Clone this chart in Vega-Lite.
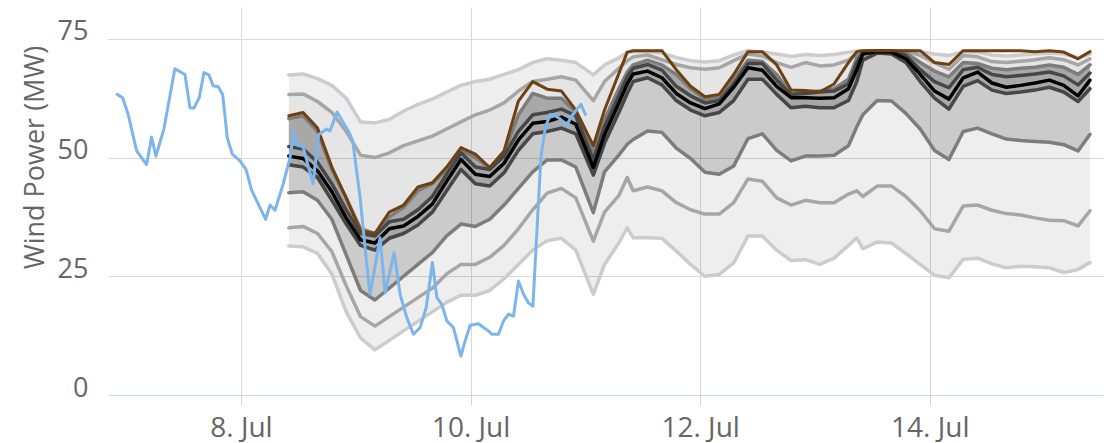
{
  "$schema": "https://vega.github.io/schema/vega-lite/v6.json",
  "width": 995,
  "height": 388,
  "autosize": "none",
  "padding": {"left": 108, "top": 7, "right": 6, "bottom": 48},
  "background": "white",
  "config": {
    "view": {"stroke": null},
    "font": "Open Sans",
    "axisX": {
      "domainColor": "#ccd6eb", "tickColor": "#ccd6eb", "tickSize": 10, "gridColor": "#d8d8d8",
      "labelFontSize": 28, "labelColor": "#666666", "labelPadding": 9, "labelFont": "Open Sans"
    },
    "axisY": {
      "domain": false, "ticks": false, "tickSize": 0, "gridColor": "#d8d8d8",
      "labelFontSize": 27, "labelColor": "#666666", "labelPadding": 20, "labelFont": "Open Sans", "labelOffset": -7,
      "titleFontSize": 27, "titleFontWeight": "normal", "titleColor": "#666666", "titleFont": "Open Sans",
      "titleX": -73, "titleY": 150, "titleAngle": -90, "titleAlign": "center", "titleBaseline": "middle"
    }
  },
  "datasets": {
    "fc": [
      {"t": "2024-07-08T10:00:00Z", "q05": 31.4, "q10": 35.2, "q25": 42.6, "q40": 48.5, "q50": 50.3, "q60": 52.3, "q75": 58.2, "q90": 63.3, "q95": 67.4, "det": 58.8},
      {"t": "2024-07-08T13:00:00Z", "q05": 31.2, "q10": 35.5, "q25": 42.8, "q40": 48.0, "q50": 49.8, "q60": 51.8, "q75": 58.8, "q90": 63.4, "q95": 67.6, "det": 59.5},
      {"t": "2024-07-08T16:00:00Z", "q05": 29.8, "q10": 34.0, "q25": 41.0, "q40": 45.8, "q50": 47.2, "q60": 49.0, "q75": 55.5, "q90": 61.8, "q95": 66.6, "det": 56.2},
      {"t": "2024-07-08T19:00:00Z", "q05": 25.5, "q10": 30.2, "q25": 37.0, "q40": 41.0, "q50": 42.8, "q60": 44.5, "q75": 47.5, "q90": 59.5, "q95": 65.2, "det": 48.0},
      {"t": "2024-07-08T22:00:00Z", "q05": 17.5, "q10": 23.0, "q25": 29.5, "q40": 36.0, "q50": 37.3, "q60": 39.0, "q75": 41.5, "q90": 55.5, "q95": 62.5, "det": 41.5},
      {"t": "2024-07-09T01:00:00Z", "q05": 12.0, "q10": 16.5, "q25": 22.0, "q40": 31.5, "q50": 32.7, "q60": 34.0, "q75": 35.0, "q90": 50.5, "q95": 57.5, "det": 34.5},
      {"t": "2024-07-09T04:00:00Z", "q05": 9.5, "q10": 14.5, "q25": 20.0, "q40": 30.5, "q50": 32.0, "q60": 33.5, "q75": 34.0, "q90": 50.0, "q95": 57.3, "det": 34.0},
      {"t": "2024-07-09T07:00:00Z", "q05": 11.5, "q10": 16.5, "q25": 22.5, "q40": 33.0, "q50": 35.0, "q60": 36.5, "q75": 37.5, "q90": 51.0, "q95": 58.0, "det": 38.5},
      {"t": "2024-07-09T10:00:00Z", "q05": 13.5, "q10": 18.5, "q25": 25.0, "q40": 34.0, "q50": 35.6, "q60": 37.0, "q75": 39.5, "q90": 52.5, "q95": 59.8, "det": 40.0},
      {"t": "2024-07-09T13:00:00Z", "q05": 15.5, "q10": 20.5, "q25": 27.5, "q40": 35.8, "q50": 37.6, "q60": 39.0, "q75": 43.0, "q90": 53.5, "q95": 61.2, "det": 43.8},
      {"t": "2024-07-09T16:00:00Z", "q05": 17.5, "q10": 22.5, "q25": 30.0, "q40": 38.5, "q50": 40.2, "q60": 41.8, "q75": 44.5, "q90": 54.5, "q95": 62.3, "det": 44.7},
      {"t": "2024-07-09T19:00:00Z", "q05": 19.5, "q10": 25.5, "q25": 33.5, "q40": 43.0, "q50": 45.0, "q60": 46.5, "q75": 47.5, "q90": 56.0, "q95": 63.8, "det": 48.0},
      {"t": "2024-07-09T22:00:00Z", "q05": 21.0, "q10": 27.5, "q25": 36.0, "q40": 47.5, "q50": 49.6, "q60": 51.0, "q75": 51.5, "q90": 57.5, "q95": 65.2, "det": 52.1},
      {"t": "2024-07-10T01:00:00Z", "q05": 21.0, "q10": 27.5, "q25": 35.5, "q40": 44.5, "q50": 46.5, "q60": 48.0, "q75": 50.0, "q90": 59.0, "q95": 66.0, "det": 50.7},
      {"t": "2024-07-10T04:00:00Z", "q05": 22.0, "q10": 29.0, "q25": 37.0, "q40": 44.0, "q50": 46.0, "q60": 47.5, "q75": 47.8, "q90": 60.0, "q95": 66.5, "det": 47.9},
      {"t": "2024-07-10T07:00:00Z", "q05": 24.5, "q10": 31.5, "q25": 40.0, "q40": 46.8, "q50": 48.8, "q60": 50.3, "q75": 51.0, "q90": 61.5, "q95": 67.5, "det": 51.4},
      {"t": "2024-07-10T10:00:00Z", "q05": 27.5, "q10": 35.0, "q25": 43.5, "q40": 51.5, "q50": 53.7, "q60": 55.5, "q75": 59.0, "q90": 64.0, "q95": 68.5, "det": 61.9},
      {"t": "2024-07-10T13:00:00Z", "q05": 30.5, "q10": 39.0, "q25": 47.0, "q40": 55.0, "q50": 57.2, "q60": 59.0, "q75": 63.5, "q90": 66.0, "q95": 70.0, "det": 66.0},
      {"t": "2024-07-10T16:00:00Z", "q05": 32.5, "q10": 42.5, "q25": 49.5, "q40": 55.5, "q50": 57.6, "q60": 59.5, "q75": 62.5, "q90": 66.5, "q95": 70.8, "det": 64.4},
      {"t": "2024-07-10T19:00:00Z", "q05": 33.0, "q10": 43.5, "q25": 49.5, "q40": 56.2, "q50": 58.5, "q60": 60.2, "q75": 62.5, "q90": 67.0, "q95": 70.5, "det": 64.0},
      {"t": "2024-07-10T22:00:00Z", "q05": 30.5, "q10": 41.5, "q25": 48.0, "q40": 55.0, "q50": 57.0, "q60": 58.8, "q75": 59.5, "q90": 66.3, "q95": 70.0, "det": 60.0},
      {"t": "2024-07-11T01:40:00Z", "q05": 21.2, "q10": 32.4, "q25": 38.4, "q40": 46.3, "q50": 47.9, "q60": 49.5, "q75": 51.0, "q90": 62.0, "q95": 67.4, "det": 52.5},
      {"t": "2024-07-11T04:00:00Z", "q05": 27.5, "q10": 38.5, "q25": 47.0, "q40": 53.0, "q50": 54.8, "q60": 56.5, "q75": 58.0, "q90": 66.0, "q95": 69.5, "det": 60.0},
      {"t": "2024-07-11T07:00:00Z", "q05": 32.0, "q10": 42.0, "q25": 50.5, "q40": 59.5, "q50": 61.5, "q60": 63.0, "q75": 64.5, "q90": 68.8, "q95": 71.0, "det": 67.7},
      {"t": "2024-07-11T08:45:00Z", "q05": 35.2, "q10": 45.8, "q25": 52.8, "q40": 63.5, "q50": 65.5, "q60": 67.0, "q75": 68.0, "q90": 70.4, "q95": 72.1, "det": 72.2},
      {"t": "2024-07-11T10:00:00Z", "q05": 33.1, "q10": 43.0, "q25": 53.8, "q40": 66.0, "q50": 67.6, "q60": 68.8, "q75": 69.5, "q90": 71.2, "q95": 72.3, "det": 72.5},
      {"t": "2024-07-11T13:00:00Z", "q05": 33.1, "q10": 43.8, "q25": 55.6, "q40": 66.8, "q50": 68.2, "q60": 69.6, "q75": 70.5, "q90": 71.6, "q95": 72.4, "det": 72.5},
      {"t": "2024-07-11T16:00:00Z", "q05": 33.0, "q10": 43.0, "q25": 55.3, "q40": 65.3, "q50": 66.8, "q60": 68.4, "q75": 69.5, "q90": 70.6, "q95": 72.0, "det": 72.5},
      {"t": "2024-07-11T19:00:00Z", "q05": 30.3, "q10": 40.5, "q25": 52.0, "q40": 62.0, "q50": 63.5, "q60": 65.0, "q75": 67.5, "q90": 69.6, "q95": 71.1, "det": 68.5},
      {"t": "2024-07-11T22:00:00Z", "q05": 27.5, "q10": 39.0, "q25": 49.8, "q40": 60.0, "q50": 61.5, "q60": 63.0, "q75": 64.5, "q90": 68.9, "q95": 70.4, "det": 65.0},
      {"t": "2024-07-12T01:00:00Z", "q05": 25.0, "q10": 38.1, "q25": 46.9, "q40": 58.8, "q50": 60.3, "q60": 61.5, "q75": 62.3, "q90": 68.6, "q95": 70.1, "det": 62.8},
      {"t": "2024-07-12T04:00:00Z", "q05": 25.4, "q10": 38.1, "q25": 46.5, "q40": 59.5, "q50": 61.3, "q60": 62.0, "q75": 62.8, "q90": 68.9, "q95": 70.4, "det": 63.3},
      {"t": "2024-07-12T07:00:00Z", "q05": 27.8, "q10": 40.5, "q25": 48.2, "q40": 62.0, "q50": 64.8, "q60": 65.5, "q75": 66.5, "q90": 70.4, "q95": 71.6, "det": 67.5},
      {"t": "2024-07-12T10:00:00Z", "q05": 33.5, "q10": 45.5, "q25": 54.0, "q40": 66.5, "q50": 68.9, "q60": 69.8, "q75": 70.5, "q90": 71.8, "q95": 72.5, "det": 72.3},
      {"t": "2024-07-12T13:00:00Z", "q05": 33.5, "q10": 45.0, "q25": 55.0, "q40": 66.5, "q50": 68.4, "q60": 69.8, "q75": 70.2, "q90": 71.4, "q95": 72.2, "det": 72.3},
      {"t": "2024-07-12T16:00:00Z", "q05": 30.5, "q10": 41.5, "q25": 51.5, "q40": 63.3, "q50": 65.0, "q60": 66.3, "q75": 67.5, "q90": 70.0, "q95": 71.8, "det": 69.5},
      {"t": "2024-07-12T19:00:00Z", "q05": 28.3, "q10": 40.0, "q25": 49.3, "q40": 60.5, "q50": 62.6, "q60": 63.3, "q75": 63.5, "q90": 69.0, "q95": 71.3, "det": 64.2},
      {"t": "2024-07-12T22:00:00Z", "q05": 28.5, "q10": 41.0, "q25": 50.3, "q40": 60.8, "q50": 62.6, "q60": 63.5, "q75": 63.8, "q90": 70.0, "q95": 71.7, "det": 64.1},
      {"t": "2024-07-13T01:00:00Z", "q05": 27.5, "q10": 40.5, "q25": 50.3, "q40": 60.5, "q50": 62.5, "q60": 63.8, "q75": 64.0, "q90": 69.3, "q95": 71.5, "det": 63.8},
      {"t": "2024-07-13T04:00:00Z", "q05": 28.8, "q10": 40.5, "q25": 50.5, "q40": 60.5, "q50": 62.6, "q60": 64.0, "q75": 64.5, "q90": 69.5, "q95": 71.7, "det": 65.5},
      {"t": "2024-07-13T07:00:00Z", "q05": 31.5, "q10": 42.3, "q25": 52.5, "q40": 62.0, "q50": 64.5, "q60": 65.5, "q75": 66.5, "q90": 70.5, "q95": 72.2, "det": 70.0},
      {"t": "2024-07-13T08:45:00Z", "q05": 33.1, "q10": 43.0, "q25": 56.5, "q40": 66.0, "q50": 68.5, "q60": 70.0, "q75": 71.0, "q90": 72.0, "q95": 72.4, "det": 72.3},
      {"t": "2024-07-13T10:00:00Z", "q05": 30.8, "q10": 41.8, "q25": 59.0, "q40": 70.5, "q50": 71.8, "q60": 72.1, "q75": 72.3, "q90": 72.4, "q95": 72.5, "det": 72.5},
      {"t": "2024-07-13T13:00:00Z", "q05": 32.2, "q10": 44.0, "q25": 62.0, "q40": 72.0, "q50": 72.3, "q60": 72.5, "q75": 72.5, "q90": 72.5, "q95": 72.5, "det": 72.5},
      {"t": "2024-07-13T16:00:00Z", "q05": 32.0, "q10": 44.0, "q25": 61.9, "q40": 71.8, "q50": 72.2, "q60": 72.5, "q75": 72.5, "q90": 72.5, "q95": 72.5, "det": 72.5},
      {"t": "2024-07-13T19:00:00Z", "q05": 29.8, "q10": 41.8, "q25": 59.3, "q40": 70.0, "q50": 70.8, "q60": 71.5, "q75": 72.0, "q90": 72.4, "q95": 72.5, "det": 72.5},
      {"t": "2024-07-13T22:00:00Z", "q05": 27.5, "q10": 38.8, "q25": 56.0, "q40": 66.0, "q50": 67.5, "q60": 68.5, "q75": 70.0, "q90": 71.5, "q95": 72.3, "det": 72.5},
      {"t": "2024-07-14T01:00:00Z", "q05": 25.2, "q10": 35.0, "q25": 51.5, "q40": 62.5, "q50": 64.0, "q60": 66.0, "q75": 68.2, "q90": 70.0, "q95": 71.8, "det": 70.0},
      {"t": "2024-07-14T04:00:00Z", "q05": 24.7, "q10": 34.5, "q25": 49.6, "q40": 60.2, "q50": 62.3, "q60": 64.7, "q75": 67.0, "q90": 68.6, "q95": 71.5, "det": 69.6},
      {"t": "2024-07-14T07:00:00Z", "q05": 28.6, "q10": 39.8, "q25": 55.5, "q40": 65.0, "q50": 66.8, "q60": 68.5, "q75": 70.0, "q90": 71.5, "q95": 72.3, "det": 72.5},
      {"t": "2024-07-14T10:00:00Z", "q05": 28.8, "q10": 40.0, "q25": 56.2, "q40": 66.2, "q50": 68.0, "q60": 69.0, "q75": 69.8, "q90": 71.2, "q95": 72.2, "det": 72.5},
      {"t": "2024-07-14T13:00:00Z", "q05": 27.6, "q10": 38.9, "q25": 55.0, "q40": 64.2, "q50": 65.7, "q60": 67.5, "q75": 68.8, "q90": 70.2, "q95": 71.6, "det": 72.5},
      {"t": "2024-07-14T16:00:00Z", "q05": 26.8, "q10": 38.2, "q25": 53.9, "q40": 63.5, "q50": 64.8, "q60": 67.0, "q75": 68.5, "q90": 70.0, "q95": 71.4, "det": 72.5},
      {"t": "2024-07-14T19:00:00Z", "q05": 27.1, "q10": 37.9, "q25": 53.6, "q40": 63.8, "q50": 65.2, "q60": 67.3, "q75": 68.8, "q90": 70.3, "q95": 71.6, "det": 72.5},
      {"t": "2024-07-14T22:00:00Z", "q05": 27.0, "q10": 37.3, "q25": 53.4, "q40": 64.2, "q50": 65.7, "q60": 67.6, "q75": 69.0, "q90": 70.6, "q95": 71.8, "det": 72.3},
      {"t": "2024-07-15T01:00:00Z", "q05": 26.8, "q10": 36.8, "q25": 53.2, "q40": 64.8, "q50": 66.3, "q60": 68.0, "q75": 69.5, "q90": 71.0, "q95": 72.0, "det": 72.5},
      {"t": "2024-07-15T04:00:00Z", "q05": 25.8, "q10": 36.7, "q25": 52.7, "q40": 63.8, "q50": 65.2, "q60": 67.2, "q75": 69.0, "q90": 70.6, "q95": 71.8, "det": 72.2},
      {"t": "2024-07-15T07:00:00Z", "q05": 26.4, "q10": 35.6, "q25": 51.4, "q40": 61.8, "q50": 63.0, "q60": 65.3, "q75": 67.5, "q90": 69.5, "q95": 71.0, "det": 70.8},
      {"t": "2024-07-15T09:30:00Z", "q05": 27.9, "q10": 38.8, "q25": 54.9, "q40": 64.5, "q50": 66.3, "q60": 67.8, "q75": 69.5, "q90": 70.8, "q95": 71.8, "det": 72.3}
    ],
    "obs": [
      {"t": "2024-07-06T22:07:00Z", "p": 63.3}, {"t": "2024-07-06T23:15:00Z", "p": 62.6},
      {"t": "2024-07-07T00:25:00Z", "p": 59.1}, {"t": "2024-07-07T02:11:00Z", "p": 51.4},
      {"t": "2024-07-07T04:16:00Z", "p": 48.5}, {"t": "2024-07-07T05:19:00Z", "p": 54.3},
      {"t": "2024-07-07T06:13:00Z", "p": 50.3}, {"t": "2024-07-07T07:53:00Z", "p": 56.0},
      {"t": "2024-07-07T10:11:00Z", "p": 68.7}, {"t": "2024-07-07T12:17:00Z", "p": 67.5},
      {"t": "2024-07-07T13:20:00Z", "p": 60.5}, {"t": "2024-07-07T14:10:00Z", "p": 60.4},
      {"t": "2024-07-07T15:16:00Z", "p": 62.6}, {"t": "2024-07-07T16:16:00Z", "p": 67.9},
      {"t": "2024-07-07T17:18:00Z", "p": 67.4}, {"t": "2024-07-07T18:12:00Z", "p": 65.1},
      {"t": "2024-07-07T19:15:00Z", "p": 64.9}, {"t": "2024-07-07T20:10:00Z", "p": 63.3},
      {"t": "2024-07-07T21:08:00Z", "p": 54.2}, {"t": "2024-07-07T22:11:00Z", "p": 50.7},
      {"t": "2024-07-07T23:47:00Z", "p": 49.3}, {"t": "2024-07-08T01:03:00Z", "p": 47.5},
      {"t": "2024-07-08T02:14:00Z", "p": 43.1}, {"t": "2024-07-08T03:37:00Z", "p": 40.2},
      {"t": "2024-07-08T05:10:00Z", "p": 37.0}, {"t": "2024-07-08T06:04:00Z", "p": 40.0},
      {"t": "2024-07-08T07:07:00Z", "p": 38.9}, {"t": "2024-07-08T08:51:00Z", "p": 44.5},
      {"t": "2024-07-08T10:15:00Z", "p": 50.0}, {"t": "2024-07-08T11:05:00Z", "p": 55.6},
      {"t": "2024-07-08T11:49:00Z", "p": 52.6}, {"t": "2024-07-08T12:58:00Z", "p": 52.3},
      {"t": "2024-07-08T15:04:00Z", "p": 44.5}, {"t": "2024-07-08T16:13:00Z", "p": 54.8},
      {"t": "2024-07-08T17:56:00Z", "p": 56.0}, {"t": "2024-07-08T18:37:00Z", "p": 55.6},
      {"t": "2024-07-08T20:05:00Z", "p": 59.6}, {"t": "2024-07-08T22:27:00Z", "p": 55.6},
      {"t": "2024-07-08T23:22:00Z", "p": 53.5}, {"t": "2024-07-09T00:54:00Z", "p": 41.6},
      {"t": "2024-07-09T02:18:00Z", "p": 27.5}, {"t": "2024-07-09T02:59:00Z", "p": 21.2},
      {"t": "2024-07-09T05:05:00Z", "p": 33.1}, {"t": "2024-07-09T06:08:00Z", "p": 21.5},
      {"t": "2024-07-09T08:01:00Z", "p": 30.0}, {"t": "2024-07-09T09:16:00Z", "p": 21.2},
      {"t": "2024-07-09T10:40:00Z", "p": 16.3}, {"t": "2024-07-09T12:03:00Z", "p": 12.8},
      {"t": "2024-07-09T13:27:00Z", "p": 14.2}, {"t": "2024-07-09T14:43:00Z", "p": 18.4},
      {"t": "2024-07-09T16:02:00Z", "p": 27.9}, {"t": "2024-07-09T16:57:00Z", "p": 20.5},
      {"t": "2024-07-09T17:59:00Z", "p": 19.1}, {"t": "2024-07-09T19:02:00Z", "p": 15.6},
      {"t": "2024-07-09T20:25:00Z", "p": 14.2}, {"t": "2024-07-09T21:58:00Z", "p": 8.2},
      {"t": "2024-07-09T22:52:00Z", "p": 11.4}, {"t": "2024-07-09T23:55:00Z", "p": 14.7},
      {"t": "2024-07-10T01:39:00Z", "p": 15.0}, {"t": "2024-07-10T02:42:00Z", "p": 14.2},
      {"t": "2024-07-10T03:45:00Z", "p": 13.5}, {"t": "2024-07-10T04:27:00Z", "p": 12.8},
      {"t": "2024-07-10T05:50:00Z", "p": 12.8}, {"t": "2024-07-10T06:53:00Z", "p": 15.6},
      {"t": "2024-07-10T07:56:00Z", "p": 17.0}, {"t": "2024-07-10T08:59:00Z", "p": 16.6},
      {"t": "2024-07-10T10:01:00Z", "p": 24.0}, {"t": "2024-07-10T11:04:00Z", "p": 21.2},
      {"t": "2024-07-10T12:07:00Z", "p": 19.4}, {"t": "2024-07-10T13:02:00Z", "p": 18.7},
      {"t": "2024-07-10T13:52:00Z", "p": 34.5}, {"t": "2024-07-10T14:42:00Z", "p": 50.0},
      {"t": "2024-07-10T15:37:00Z", "p": 56.3}, {"t": "2024-07-10T16:39:00Z", "p": 59.1},
      {"t": "2024-07-10T17:42:00Z", "p": 58.8}, {"t": "2024-07-10T18:45:00Z", "p": 58.1},
      {"t": "2024-07-10T20:00:00Z", "p": 56.7}, {"t": "2024-07-10T21:12:00Z", "p": 58.8},
      {"t": "2024-07-10T22:14:00Z", "p": 60.2}, {"t": "2024-07-10T23:05:00Z", "p": 61.2},
      {"t": "2024-07-10T23:59:00Z", "p": 59.1}
    ]
  },
  "encoding": {
    "x": {
      "field": "t", "type": "temporal",
      "scale": {"type": "utc", "domain": [
        {"year": 2024, "month": 7, "date": 6, "hours": 20, "minutes": 12, "utc": true},
        {"year": 2024, "month": 7, "date": 15, "hours": 12, "minutes": 13, "utc": true}
      ]},
      "axis": {
        "title": null, "grid": true, "labelFlush": false,
        "values": [
          {"year": 2024, "month": 7, "date": 8, "utc": true},
          {"year": 2024, "month": 7, "date": 10, "utc": true},
          {"year": 2024, "month": 7, "date": 12, "utc": true},
          {"year": 2024, "month": 7, "date": 14, "utc": true}
        ],
        "labelExpr": "utcFormat(datum.value, '%-d. %b')"
      }
    }
  },
  "layer": [
    {
      "data": {"name": "fc"},
      "mark": {"type": "area", "color": "#000000", "opacity": 0.067},
      "encoding": {
        "y": {"field": "q05", "type": "quantitative", "title": "Wind Power (MW)",
          "scale": {"domain": [0, 81.7], "nice": false, "zero": false},
          "axis": {"values": [0, 25, 50, 75], "grid": true}},
        "y2": {"field": "q95"}
      }
    },
    {
      "data": {"name": "fc"},
      "mark": {"type": "area", "color": "#000000", "opacity": 0.035},
      "encoding": {
        "y": {"field": "q25", "type": "quantitative", "title": "Wind Power (MW)"},
        "y2": {"field": "q90"}
      }
    },
    {
      "data": {"name": "fc"},
      "mark": {"type": "area", "color": "#000000", "opacity": 0.11},
      "encoding": {
        "y": {"field": "q25", "type": "quantitative", "title": "Wind Power (MW)"},
        "y2": {"field": "q75"}
      }
    },
    {
      "data": {"name": "fc"},
      "mark": {"type": "area", "color": "#000000", "opacity": 0.167},
      "encoding": {
        "y": {"field": "q40", "type": "quantitative", "title": "Wind Power (MW)"},
        "y2": {"field": "q75"}
      }
    },
    {
      "data": {"name": "fc"},
      "transform": [{"fold": ["q05", "q95"], "as": ["q", "v"]}],
      "mark": {"type": "line", "color": "#cccccc", "strokeWidth": 3.5, "strokeJoin": "round", "strokeCap": "round"},
      "encoding": {"y": {"field": "v", "type": "quantitative", "title": "Wind Power (MW)"}, "detail": {"field": "q"}}
    },
    {
      "data": {"name": "fc"},
      "transform": [{"fold": ["q10", "q90"], "as": ["q", "v"]}],
      "mark": {"type": "line", "color": "#a6a6a6", "strokeWidth": 3.5, "strokeJoin": "round", "strokeCap": "round"},
      "encoding": {"y": {"field": "v", "type": "quantitative", "title": "Wind Power (MW)"}, "detail": {"field": "q"}}
    },
    {
      "data": {"name": "fc"},
      "transform": [{"fold": ["q25", "q75"], "as": ["q", "v"]}],
      "mark": {"type": "line", "color": "#7d7d7d", "strokeWidth": 3.5, "strokeJoin": "round", "strokeCap": "round"},
      "encoding": {"y": {"field": "v", "type": "quantitative", "title": "Wind Power (MW)"}, "detail": {"field": "q"}}
    },
    {
      "data": {"name": "fc"},
      "transform": [{"fold": ["q40", "q60"], "as": ["q", "v"]}],
      "mark": {"type": "line", "color": "#474747", "strokeWidth": 3.5, "strokeJoin": "round", "strokeCap": "round"},
      "encoding": {"y": {"field": "v", "type": "quantitative", "title": "Wind Power (MW)"}, "detail": {"field": "q"}}
    },
    {
      "data": {"name": "fc"},
      "mark": {"type": "line", "color": "#000000", "strokeWidth": 3.5, "strokeJoin": "round", "strokeCap": "round"},
      "encoding": {"y": {"field": "q50", "type": "quantitative", "title": "Wind Power (MW)"}}
    },
    {
      "data": {"name": "fc"},
      "mark": {"type": "line", "color": "#6f4010", "strokeWidth": 3, "strokeJoin": "round", "strokeCap": "round"},
      "encoding": {"y": {"field": "det", "type": "quantitative", "title": "Wind Power (MW)"}}
    },
    {
      "data": {"name": "obs"},
      "mark": {"type": "line", "color": "#7cb5ec", "strokeWidth": 3, "strokeJoin": "round", "strokeCap": "round"},
      "encoding": {"y": {"field": "p", "type": "quantitative", "title": "Wind Power (MW)"}}
    }
  ]
}
